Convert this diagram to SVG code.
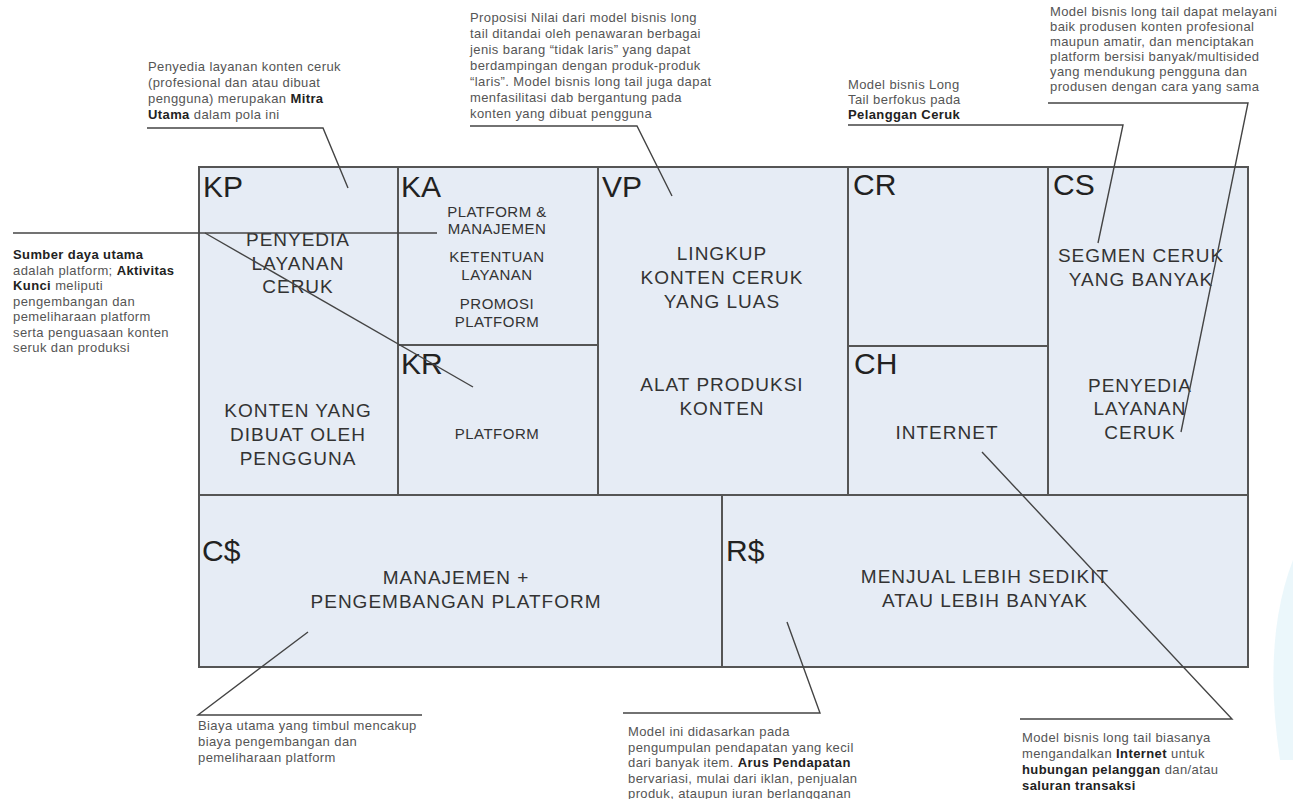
<svg xmlns="http://www.w3.org/2000/svg" width="1293" height="799" viewBox="0 0 1293 799">
<style>
.cell{fill:#e6ecf5;stroke:#555;stroke-width:2}
.lbl{font-family:"Liberation Sans",Arial,sans-serif;font-size:30px;fill:#222}
.bt{font-family:"Liberation Sans",Arial,sans-serif;font-size:19px;fill:#333;text-anchor:middle;letter-spacing:1px}
.st{font-family:"Liberation Sans",Arial,sans-serif;font-size:15px;fill:#333;text-anchor:middle;letter-spacing:0.5px}
.an{font-family:"Liberation Sans",Arial,sans-serif;font-size:13px;fill:#555;letter-spacing:0.4px}
.an tspan.b{font-weight:bold;fill:#222}
.co{fill:none;stroke:#444;stroke-width:1.4}
</style>
<rect width="1293" height="799" fill="#fff"/>
<path d="M1293 560 Q1262 640 1280 760 L1293 760 Z" fill="#e3f3fa" opacity="0.7"/>
<g id="KP"><rect class="cell" x="199" y="167" width="199" height="328"/>
<text class="lbl" x="203" y="197">KP</text>
<text class="bt" x="298" y="246">PENYEDIA</text><text class="bt" x="298" y="270">LAYANAN</text><text class="bt" x="298" y="293">CERUK</text>
<text class="bt" x="298" y="417">KONTEN YANG</text><text class="bt" x="298" y="441">DIBUAT OLEH</text><text class="bt" x="298" y="465">PENGGUNA</text></g>
<g id="KA"><rect class="cell" x="398" y="167" width="200" height="178"/>
<text class="lbl" x="401" y="197">KA</text>
<text class="st" x="497" y="217">PLATFORM &amp;</text><text class="st" x="497" y="234">MANAJEMEN</text>
<text class="st" x="497" y="262">KETENTUAN</text><text class="st" x="497" y="280">LAYANAN</text>
<text class="st" x="497" y="309">PROMOSI</text><text class="st" x="497" y="327">PLATFORM</text></g>
<g id="KR"><rect class="cell" x="398" y="345" width="200" height="150"/>
<text class="lbl" x="401" y="374">KR</text>
<text class="st" x="497" y="439">PLATFORM</text></g>
<g id="VP"><rect class="cell" x="598" y="167" width="250" height="328"/>
<text class="lbl" x="602" y="197">VP</text>
<text class="bt" x="722" y="260">LINGKUP</text><text class="bt" x="722" y="284">KONTEN CERUK</text><text class="bt" x="722" y="308">YANG LUAS</text>
<text class="bt" x="722" y="391">ALAT PRODUKSI</text><text class="bt" x="722" y="415">KONTEN</text></g>
<g id="CR"><rect class="cell" x="848" y="167" width="200" height="179"/>
<text class="lbl" x="853" y="195">CR</text></g>
<g id="CH"><rect class="cell" x="848" y="346" width="200" height="149"/>
<text class="lbl" x="854" y="374">CH</text>
<text class="bt" x="947" y="439">INTERNET</text></g>
<g id="CS"><rect class="cell" x="1048" y="167" width="200" height="328"/>
<text class="lbl" x="1053" y="195">CS</text>
<text class="bt" x="1141" y="262">SEGMEN CERUK</text><text class="bt" x="1141" y="286">YANG BANYAK</text>
<text class="bt" x="1140" y="392">PENYEDIA</text><text class="bt" x="1140" y="415">LAYANAN</text><text class="bt" x="1140" y="439">CERUK</text></g>
<g id="Cost"><rect class="cell" x="199" y="495" width="523" height="172"/>
<text class="lbl" x="202" y="561">C$</text>
<text class="bt" x="456" y="584">MANAJEMEN +</text><text class="bt" x="456" y="608">PENGEMBANGAN PLATFORM</text></g>
<g id="Revenue"><rect class="cell" x="722" y="495" width="526" height="172"/>
<text class="lbl" x="726" y="561">R$</text>
<text class="bt" x="985" y="583">MENJUAL LEBIH SEDIKIT</text><text class="bt" x="985" y="607">ATAU LEBIH BANYAK</text></g>
<g id="connectors">
<polyline class="co" points="147,128 323,128 348,188"/>
<polyline class="co" points="470,126 637,126 672,196"/>
<polyline class="co" points="848,125 1123,125 1098,243"/>
<polyline class="co" points="1048,103 1248,103 1181,432"/>
<line class="co" x1="13" y1="233" x2="437" y2="233"/>
<line class="co" x1="205" y1="233" x2="473" y2="387"/>
<polyline class="co" points="308,632 198,715 422,715"/>
<polyline class="co" points="623,713 820,713 787,622"/>
<polyline class="co" points="982,452 1232,719 1020,719"/>
</g>
<g id="ann-kp"><text class="an" x="148" y="71"><tspan x="148">Penyedia layanan konten ceruk</tspan><tspan x="148" dy="16">(profesional dan atau dibuat</tspan><tspan x="148" dy="16">pengguna) merupakan <tspan class="b">Mitra</tspan></tspan><tspan x="148" dy="16"><tspan class="b">Utama</tspan> dalam pola ini</tspan></text></g>
<g id="ann-vp"><text class="an" x="470" y="22"><tspan x="470">Proposisi Nilai dari model bisnis long</tspan><tspan x="470" dy="16">tail ditandai oleh penawaran berbagai</tspan><tspan x="470" dy="16">jenis barang “tidak laris” yang dapat</tspan><tspan x="470" dy="16">berdampingan dengan produk-produk</tspan><tspan x="470" dy="16">“laris”. Model bisnis long tail juga dapat</tspan><tspan x="470" dy="16">menfasilitasi dab bergantung pada</tspan><tspan x="470" dy="16">konten yang dibuat pengguna</tspan></text></g>
<g id="ann-cr"><text class="an" x="848" y="89"><tspan x="848">Model bisnis Long</tspan><tspan x="848" dy="15">Tail berfokus pada</tspan><tspan x="848" dy="15" class="b">Pelanggan Ceruk</tspan></text></g>
<g id="ann-cs"><text class="an" x="1050" y="16"><tspan x="1050">Model bisnis long tail dapat melayani</tspan><tspan x="1050" dy="15">baik produsen konten profesional</tspan><tspan x="1050" dy="15">maupun amatir, dan menciptakan</tspan><tspan x="1050" dy="15">platform bersisi banyak/multisided</tspan><tspan x="1050" dy="15">yang mendukung pengguna dan</tspan><tspan x="1050" dy="15">produsen dengan cara yang sama</tspan></text></g>
<g id="ann-left"><text class="an" x="13" y="259"><tspan x="13" class="b">Sumber daya utama</tspan><tspan x="13" dy="15.5">adalah platform; <tspan class="b">Aktivitas</tspan></tspan><tspan x="13" dy="15.5"><tspan class="b">Kunci</tspan> meliputi</tspan><tspan x="13" dy="15.5">pengembangan dan</tspan><tspan x="13" dy="15.5">pemeliharaan platform</tspan><tspan x="13" dy="15.5">serta penguasaan konten</tspan><tspan x="13" dy="15.5">seruk dan produksi</tspan></text></g>
<g id="ann-cost"><text class="an" x="198" y="730"><tspan x="198">Biaya utama yang timbul mencakup</tspan><tspan x="198" dy="16">biaya pengembangan dan</tspan><tspan x="198" dy="16">pemeliharaan platform</tspan></text></g>
<g id="ann-rev"><text class="an" x="628" y="736"><tspan x="628">Model ini didasarkan pada</tspan><tspan x="628" dy="15.5">pengumpulan pendapatan yang kecil</tspan><tspan x="628" dy="15.5">dari banyak item. <tspan class="b">Arus Pendapatan</tspan></tspan><tspan x="628" dy="15.5">bervariasi, mulai dari iklan, penjualan</tspan><tspan x="628" dy="15.5">produk, ataupun iuran berlangganan</tspan></text></g>
<g id="ann-ch"><text class="an" x="1022" y="742"><tspan x="1022">Model bisnis long tail biasanya</tspan><tspan x="1022" dy="16">mengandalkan <tspan class="b">Internet</tspan> untuk</tspan><tspan x="1022" dy="16"><tspan class="b">hubungan pelanggan</tspan> dan/atau</tspan><tspan x="1022" dy="16" class="b">saluran transaksi</tspan></text></g>
</svg>
